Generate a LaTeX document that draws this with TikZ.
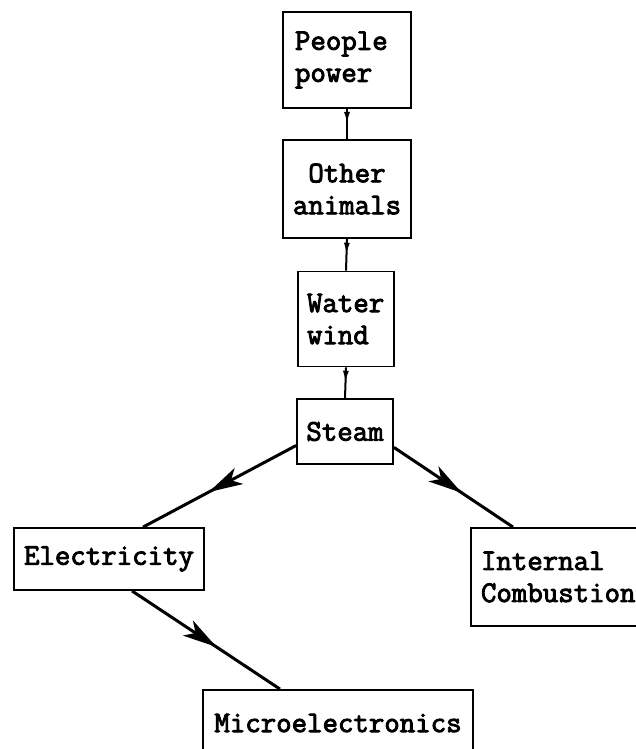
\documentclass[tikz,border=0pt]{standalone}
\usepackage{fontspec}
\newfontfamily\typefont{Latin Modern Mono}[FakeBold=3]
\usetikzlibrary{arrows.meta,decorations.markings}

\begin{document}
\begin{tikzpicture}[x=1pt,y=-1pt]
\tikzstyle{every node}+=[inner sep=0pt,font=\typefont\fontsize{30}{32}\selectfont]
\tikzstyle{box}=[draw=black,line width=1.8pt]
\tikzstyle{small flow}=[black,line width=2pt,postaction={decorate},
  decoration={markings,mark=at position 0.5 with {\arrow{Latex[length=12pt,width=6pt]}}}]
\tikzstyle{big flow}=[black,line width=3pt,postaction={decorate},
  decoration={markings,mark=at position 0.57 with {\arrow{Stealth[length=34pt,width=18pt,inset=9pt]}}}]
\useasboundingbox (0,0) rectangle (636,749);
% column of boxes
\node [box,minimum width=128pt,minimum height=96pt,text width=104pt,align=left] (people) at (347,60) {People\\power};
\node [box,minimum width=128pt,minimum height=98pt,align=center] (animals) at (347,189) {Other\\animals};
\node [box,minimum width=96pt,minimum height=95pt,text width=78pt,align=left] (water) at (346,319) {Water\\wind};
\node [box,minimum width=96pt,minimum height=65pt] (steam) at (345,431.5) {Steam};
% lower boxes
\node [box,minimum width=190pt,minimum height=62pt] (elec) at (109,559) {Electricity};
\node [box,minimum width=230pt,minimum height=98pt,text width=210pt,align=left] (internal) at (586,577) {Internal\\Combustion};
\node [box,minimum width=270pt,minimum height=66pt] (micro) at (338,723) {Microelectronics};

\draw [small flow] (people.south) -- (animals.north);
\draw [small flow] (animals.south) -- (water.north);
\draw [small flow] (water.south) -- (steam.north);
\draw [big flow] (steam.196) -- ([xshift=34pt]elec.north);
\draw [big flow] (steam.342) -- ([xshift=-73pt]internal.north);
\draw [big flow] ([xshift=23pt]elec.south) -- ([xshift=-58pt]micro.north);
\end{tikzpicture}
\end{document}
